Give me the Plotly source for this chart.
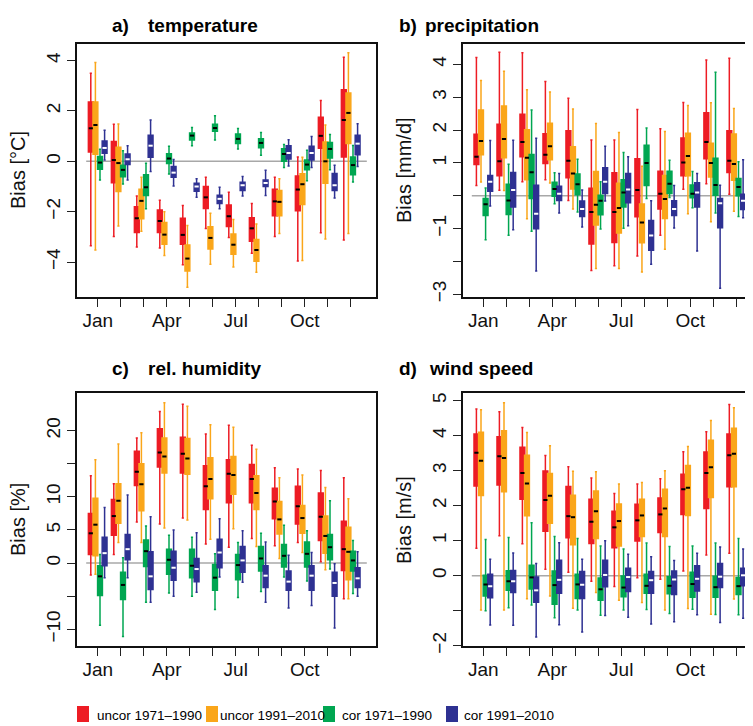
import plotly.graph_objects as go

months = list(range(1, 13))
month_labels = ["Jan", "", "", "Apr", "", "", "Jul", "", "", "Oct", "", ""]
series_names = ["uncor 1971\u20131990", "uncor 1991\u20132010", "cor 1971\u20131990", "cor 1991\u20132010"]

# ---------------- a) temperature [°C] ----------------
# each list: Jan..Dec ; lo = lower whisker, hi = upper whisker
T_r_lo = [-3.35, -2.98, -3.40, -3.44, -4.11, -2.67, -3.02, -3.65, -2.98, -3.96, -2.84, -3.12]
T_r_q1 = [0.37, -0.85, -2.83, -2.83, -3.29, -1.87, -2.59, -3.17, -2.16, -1.96, 0.52, 0.17]
T_r_md = [1.31, 0.05, -2.26, -2.37, -2.92, -1.43, -2.18, -2.66, -1.59, -1.12, 1.01, 1.64]
T_r_q3 = [2.35, 0.79, -1.80, -1.93, -2.26, -1.00, -1.73, -2.24, -1.11, -0.58, 1.75, 2.84]
T_r_hi = [3.49, 1.47, -1.38, -1.55, -1.75, -0.63, -1.23, -1.67, -0.63, 0.17, 2.41, 4.13]

T_o_lo = [-3.52, -2.57, -2.78, -3.74, -5.00, -4.09, -4.19, -4.40, -2.87, -3.94, -3.08, -2.87]
T_o_q1 = [0.28, -1.20, -2.28, -3.29, -4.35, -3.48, -3.69, -3.97, -2.16, -1.71, -0.87, 0.71]
T_o_md = [1.44, -0.07, -1.57, -2.91, -3.86, -3.04, -3.31, -3.52, -1.61, -0.91, 0.00, 1.92]
T_o_q3 = [2.35, 0.56, -1.11, -2.43, -3.32, -2.60, -2.88, -3.10, -1.16, -0.49, 0.77, 2.71]
T_o_hi = [3.92, 1.48, -0.63, -2.00, -2.55, -2.06, -2.31, -2.49, -0.69, 0.16, 1.44, 4.31]

T_g_lo = [-0.74, -0.90, -1.88, -0.50, 0.62, 0.85, 0.49, 0.24, -0.25, -0.77, -0.34, -0.82]
T_g_q1 = [-0.32, -0.61, -1.36, -0.09, 0.85, 1.19, 0.71, 0.54, 0.00, -0.34, 0.13, -0.53]
T_g_md = [-0.05, -0.34, -1.03, 0.11, 1.02, 1.32, 0.89, 0.73, 0.29, -0.13, 0.49, -0.15]
T_g_q3 = [0.19, -0.16, -0.53, 0.30, 1.12, 1.47, 1.08, 0.89, 0.50, 0.05, 0.75, 0.17]
T_g_hi = [0.48, 0.42, -0.08, 0.60, 1.34, 1.81, 1.30, 1.14, 0.67, 0.44, 1.06, 0.63]

T_b_lo = [0.05, -0.74, -0.40, -0.98, -1.43, -1.88, -1.38, -1.36, -0.19, -0.25, -1.46, -0.21]
T_b_q1 = [0.32, -0.13, 0.16, -0.63, -1.19, -1.67, -1.16, -1.00, 0.09, 0.05, -1.16, 0.26]
T_b_md = [0.53, 0.08, 0.62, -0.45, -1.00, -1.49, -0.95, -0.86, 0.33, 0.33, -0.95, 0.70]
T_b_q3 = [0.81, 0.29, 1.03, -0.21, -0.87, -1.35, -0.83, -0.74, 0.62, 0.60, -0.48, 1.03]
T_b_hi = [1.23, 0.62, 1.64, 0.07, -0.69, -1.03, -0.60, -0.36, 0.86, 0.98, -0.16, 1.49]

# ---------------- b) precipitation [mm/d] ----------------
P_r_lo = [0.31, 0.17, 0.43, 0.49, -0.14, -2.27, -2.13, -1.83, -1.20, 0.20, 0.37, 0.05]
P_r_q1 = [0.95, 0.61, 1.19, 0.98, 0.55, -1.47, -1.42, -0.64, -0.40, 0.61, 1.13, 0.71]
P_r_md = [1.19, 1.05, 1.64, 1.25, 1.07, -0.49, -0.49, 0.18, 0.06, 1.01, 1.64, 1.07]
P_r_q3 = [1.87, 2.18, 2.48, 1.89, 1.98, 0.23, 0.70, 1.13, 0.75, 1.76, 2.53, 1.98]
P_r_hi = [4.21, 4.37, 4.35, 3.48, 2.97, 1.70, 1.70, 2.63, 2.04, 2.84, 4.13, 4.19]

P_o_lo = [0.42, 0.16, -0.70, 0.39, -0.40, -2.21, -2.21, -2.32, -1.63, -0.55, -0.79, -0.47]
P_o_q1 = [1.25, 1.16, 0.49, 1.10, 0.21, -0.89, -1.13, -1.43, -0.69, 0.61, 0.57, 0.47]
P_o_md = [1.67, 1.73, 1.16, 1.51, 0.68, -0.27, -0.37, -0.81, -0.10, 1.21, 1.00, 0.97]
P_o_q3 = [2.61, 2.73, 2.01, 2.21, 1.49, 0.74, 0.38, -0.25, 0.62, 1.90, 1.60, 1.88]
P_o_hi = [3.51, 3.79, 3.23, 3.16, 2.64, 2.20, 1.93, 0.90, 1.96, 2.75, 2.83, 2.66]

P_g_lo = [-1.34, -1.20, -1.08, -0.24, -0.49, -1.01, -0.99, -0.08, -0.05, -0.36, -0.52, -0.63]
P_g_q1 = [-0.60, -0.57, -0.08, -0.01, 0.03, -0.58, -0.34, 0.31, 0.07, -0.06, 0.02, 0.00]
P_g_md = [-0.26, -0.14, 0.72, 0.21, 0.35, -0.15, 0.10, 1.00, 0.37, 0.06, 0.33, 0.27]
P_g_q3 = [-0.08, 0.35, 1.26, 0.41, 0.66, 0.02, 0.49, 1.54, 0.75, 0.33, 1.14, 0.53]
P_g_hi = [0.24, 0.96, 2.61, 0.70, 1.11, 0.43, 1.32, 2.06, 1.08, 0.74, 3.76, 1.04]

P_b_lo = [-0.31, -1.03, -2.29, -0.52, -0.95, -0.16, -0.91, -2.08, -0.98, -1.68, -2.81, -0.67]
P_b_q1 = [0.14, -0.34, -1.00, -0.14, -0.63, 0.07, -0.21, -1.66, -0.60, -0.34, -0.97, -0.42]
P_b_md = [0.43, 0.18, -0.55, 0.06, -0.40, 0.43, 0.19, -1.21, -0.40, 0.10, -0.23, -0.15]
P_b_q3 = [0.62, 0.71, 0.32, 0.29, -0.16, 0.85, 0.68, -0.75, -0.15, 0.40, -0.08, 0.05]
P_b_hi = [1.68, 1.69, 1.75, 0.68, 0.18, 1.51, 1.19, -0.15, 0.31, 0.68, 0.32, 1.10]

# ---------------- c) relative humidity [%] ----------------
H_r_lo = [-1.8, 1.3, 6.2, 5.9, 6.8, 2.9, 2.4, 3.7, 2.6, 3.1, 0.2, -5.4]
H_r_q1 = [1.3, 4.2, 11.7, 14.5, 13.6, 8.1, 9.1, 9.1, 6.7, 5.9, 3.4, -1.1]
H_r_md = [4.5, 7.1, 13.8, 16.7, 16.5, 11.6, 13.5, 12.7, 9.3, 8.6, 7.0, 2.1]
H_r_q3 = [7.5, 9.6, 16.9, 20.3, 19.0, 14.7, 15.6, 14.9, 11.3, 11.6, 10.6, 6.3]
H_r_hi = [13.2, 12.0, 18.9, 22.9, 24.0, 19.5, 20.8, 17.8, 14.4, 14.2, 14.0, 12.9]

H_o_lo = [-1.7, 3.1, 3.1, 5.3, 6.5, 3.6, 5.2, 2.5, 0.7, 1.6, -1.0, -5.4]
H_o_q1 = [1.1, 6.0, 7.9, 13.6, 13.4, 9.7, 10.4, 8.1, 4.4, 4.5, 1.5, -2.5]
H_o_md = [5.8, 9.4, 11.9, 16.1, 15.8, 12.7, 13.3, 10.6, 6.6, 6.8, 4.1, 1.7]
H_o_q3 = [9.8, 12.0, 15.0, 18.9, 18.8, 15.9, 16.1, 13.2, 9.3, 8.7, 7.1, 5.4]
H_o_hi = [15.6, 18.0, 19.7, 24.2, 23.7, 20.9, 20.5, 17.2, 12.9, 13.3, 11.4, 9.7]

H_g_lo = [-9.4, -11.1, -5.9, -4.5, -5.0, -7.0, -5.2, -4.3, -2.1, -2.7, -0.9, -4.6]
H_g_q1 = [-4.9, -5.5, -0.5, -1.7, -2.2, -4.1, -2.5, -1.2, -0.6, -0.6, 0.5, -1.2]
H_g_md = [-2.0, -3.3, 1.8, 0.5, -0.4, -2.2, -0.3, 0.7, 1.1, 1.4, 2.4, 0.4]
H_g_q3 = [-0.4, -1.4, 3.5, 2.1, 2.1, -0.2, 1.3, 2.5, 2.8, 3.2, 4.3, 1.8]
H_g_hi = [1.3, 0.8, 5.6, 4.2, 3.9, 1.4, 3.1, 4.5, 5.7, 4.9, 9.4, 3.4]

H_b_lo = [-2.2, -2.2, -5.9, -5.0, -4.4, -2.1, -2.9, -5.9, -6.8, -6.4, -9.8, -5.0]
H_b_q1 = [-0.4, 0.5, -4.0, -2.6, -2.8, -0.7, -1.4, -3.7, -4.1, -4.1, -5.0, -3.7]
H_b_md = [1.5, 2.1, -2.0, -0.7, -0.9, 1.6, 0.4, -1.9, -2.8, -1.9, -3.0, -2.3]
H_b_q3 = [3.9, 4.3, 1.7, 1.8, 0.7, 3.6, 2.5, -0.4, -1.2, -0.4, -1.4, -0.7]
H_b_hi = [8.4, 10.3, 7.0, 5.0, 4.6, 6.7, 4.9, 3.2, 1.2, 1.6, -0.1, 1.7]

# ---------------- d) wind speed [m/s] ----------------
W_r_lo = [0.78, 1.14, 0.91, 0.18, 0.10, -0.16, -0.31, -0.06, -0.10, 0.13, 0.59, 0.64]
W_r_q1 = [2.56, 2.59, 2.18, 1.27, 1.08, 0.92, 0.80, 0.99, 1.23, 1.75, 1.92, 2.54]
W_r_md = [3.51, 3.41, 2.93, 2.16, 1.70, 1.54, 1.38, 1.58, 1.75, 2.47, 2.93, 3.44]
W_r_q3 = [4.05, 3.97, 3.67, 2.99, 2.55, 2.18, 1.84, 2.04, 2.22, 2.90, 3.53, 4.05]
W_r_hi = [4.76, 4.68, 4.23, 3.43, 3.11, 2.79, 2.35, 2.62, 2.77, 3.54, 4.11, 4.89]

W_o_lo = [-0.98, -0.98, -0.66, -0.58, -0.93, -0.48, -0.70, -0.77, -0.98, -0.94, -1.10, -0.67]
W_o_q1 = [2.29, 2.40, 1.71, 1.50, 0.88, 1.06, 0.85, 1.12, 1.12, 1.72, 2.23, 2.54]
W_o_md = [3.28, 3.36, 2.63, 2.28, 1.67, 1.84, 1.56, 1.72, 1.92, 2.51, 3.10, 3.48]
W_o_q3 = [4.10, 4.14, 3.44, 2.92, 2.30, 2.42, 2.05, 2.18, 2.47, 3.15, 3.87, 4.21]
W_o_hi = [4.74, 4.94, 4.09, 3.71, 2.98, 2.97, 2.62, 2.66, 3.00, 3.69, 4.43, 4.80]

W_g_lo = [-1.00, -0.92, -0.84, -1.20, -0.98, -1.13, -0.98, -0.97, -1.08, -0.96, -1.11, -1.12]
W_g_q1 = [-0.58, -0.42, -0.38, -0.82, -0.65, -0.70, -0.60, -0.50, -0.52, -0.62, -0.62, -0.54]
W_g_md = [-0.25, -0.16, -0.05, -0.27, -0.25, -0.39, -0.34, -0.29, -0.29, -0.24, -0.33, -0.30]
W_g_q3 = [0.01, 0.14, 0.30, 0.13, 0.04, -0.07, -0.01, 0.04, -0.03, 0.10, -0.02, -0.05]
W_g_hi = [1.03, 1.09, 1.51, 1.12, 1.06, 0.85, 0.76, 0.93, 0.83, 0.85, 0.93, 1.06]

W_b_lo = [-1.41, -1.42, -1.75, -1.40, -1.61, -1.14, -1.19, -1.38, -1.32, -1.12, -1.34, -1.22]
W_b_q1 = [-0.63, -0.48, -0.76, -0.50, -0.65, -0.32, -0.45, -0.50, -0.54, -0.44, -0.34, -0.29]
W_b_md = [-0.30, -0.16, -0.42, -0.12, -0.26, 0.02, -0.04, -0.13, -0.11, -0.09, -0.03, 0.01]
W_b_q3 = [0.04, 0.15, -0.04, 0.44, 0.12, 0.44, 0.21, 0.12, 0.13, 0.28, 0.35, 0.21]
W_b_hi = [0.47, 0.65, 0.35, 0.94, 0.47, 1.00, 0.61, 0.54, 0.43, 0.64, 0.82, 0.76]

# ---------------- styling ----------------
colors = ["#ED1C24", "#FAA61A", "#00A651", "#2E3192"]
median_colors = ["black", "black", "black", "white"]
offsets = [-0.3, -0.1, 0.1, 0.3]

panels = {
    "T": [[T_r_lo, T_r_q1, T_r_md, T_r_q3, T_r_hi], [T_o_lo, T_o_q1, T_o_md, T_o_q3, T_o_hi],
          [T_g_lo, T_g_q1, T_g_md, T_g_q3, T_g_hi], [T_b_lo, T_b_q1, T_b_md, T_b_q3, T_b_hi]],
    "P": [[P_r_lo, P_r_q1, P_r_md, P_r_q3, P_r_hi], [P_o_lo, P_o_q1, P_o_md, P_o_q3, P_o_hi],
          [P_g_lo, P_g_q1, P_g_md, P_g_q3, P_g_hi], [P_b_lo, P_b_q1, P_b_md, P_b_q3, P_b_hi]],
    "H": [[H_r_lo, H_r_q1, H_r_md, H_r_q3, H_r_hi], [H_o_lo, H_o_q1, H_o_md, H_o_q3, H_o_hi],
          [H_g_lo, H_g_q1, H_g_md, H_g_q3, H_g_hi], [H_b_lo, H_b_q1, H_b_md, H_b_q3, H_b_hi]],
    "W": [[W_r_lo, W_r_q1, W_r_md, W_r_q3, W_r_hi], [W_o_lo, W_o_q1, W_o_md, W_o_q3, W_o_hi],
          [W_g_lo, W_g_q1, W_g_md, W_g_q3, W_g_hi], [W_b_lo, W_b_q1, W_b_md, W_b_q3, W_b_hi]],
}
axis_of = {"T": ("x", "y"), "P": ("x2", "y2"), "H": ("x3", "y3"), "W": ("x4", "y4")}

# the page body has an 8px margin: the figure is drawn at (8, 8) in the window
OFF = 8
W_PX, H_PX = 753 - OFF, 726 - OFF
FONT = "Liberation Sans, Arial, Helvetica, sans-serif"

fig = go.Figure()
for key, series in panels.items():
    xa, ya = axis_of[key]
    for s, (lo, q1, md, q3, hi) in enumerate(series):
        xs = [m + offsets[s] for m in months]
        fig.add_trace(go.Box(
            x=xs, q1=q1, median=md, q3=q3, lowerfence=lo, upperfence=hi,
            width=0.21, whiskerwidth=0.45, boxpoints=False,
            fillcolor=colors[s], line=dict(color=colors[s], width=1.5),
            name=series_names[s], showlegend=False, xaxis=xa, yaxis=ya))
    for s, (lo, q1, md, q3, hi) in enumerate(series):
        xs = [m + offsets[s] for m in months]
        fig.add_trace(go.Scatter(
            x=xs, y=md, mode="markers", showlegend=False, hoverinfo="skip",
            marker=dict(symbol="line-ew", size=3,
                        line=dict(width=2, color=median_colors[s])),
            xaxis=xa, yaxis=ya))

def px_x(p):
    return (p - OFF) / W_PX

def px_y(p):
    return 1 - (p - OFF) / H_PX

xdom_left = [px_x(77), px_x(376)]
xdom_right = [px_x(463.3), 1.0]
ydom_top = [px_y(297), px_y(44)]
ydom_bot = [px_y(646), px_y(393.3)]

xcommon = dict(tickmode="array", tickvals=months, ticktext=month_labels,
               ticks="outside", ticklen=8, tickwidth=1.4, tickcolor="#222",
               showline=True, linecolor="#111", linewidth=1.8, mirror=True,
               showgrid=False, zeroline=False, automargin=False, ticklabelstandoff=-3,
               tickfont=dict(family=FONT, size=19, color="#111"))
ycommon = dict(ticks="outside", ticklen=8, tickwidth=1.4, tickcolor="#222",
               showline=True, linecolor="#111", linewidth=1.8,
               showgrid=False, zeroline=False, tickangle=-90, tickmode="array",
               automargin=False,
               tickfont=dict(family=FONT, size=19, color="#111"))

M = "\u2212"
fig.update_layout(
    template="none",
    width=W_PX, height=H_PX, margin=dict(l=0, r=0, t=0, b=0, pad=0),
    paper_bgcolor="white", plot_bgcolor="white", boxmode="overlay", showlegend=False,
    xaxis=dict(xcommon, domain=xdom_left, range=[0.1, 13.1], anchor="y"),
    yaxis=dict(ycommon, domain=ydom_top, range=[-5.385, 4.655], anchor="x", mirror=True,
               tickvals=[-4, -2, 0, 2, 4], ticktext=[M + "4", M + "2", "0", "2", "4"]),
    xaxis2=dict(xcommon, domain=xdom_right, range=[0.13, 12.73], anchor="y2"),
    yaxis2=dict(ycommon, domain=ydom_top, range=[-3.08, 4.62], anchor="x2", mirror=False,
                tickvals=[-3, -2, -1, 0, 1, 2, 3, 4],
                ticktext=[M + "3", "", M + "1", "", "1", "2", "3", "4"]),
    xaxis3=dict(xcommon, domain=xdom_left, range=[0.1, 13.1], anchor="y3"),
    yaxis3=dict(ycommon, domain=ydom_bot, range=[-12.52, 25.64], anchor="x3", mirror=True,
                tickvals=[-10, -5, 0, 5, 10, 15, 20],
                ticktext=[M + "10", "", "0", "5", "10", "", "20"]),
    xaxis4=dict(xcommon, domain=xdom_right, range=[0.13, 12.73], anchor="y4"),
    yaxis4=dict(ycommon, domain=ydom_bot, range=[-2.01, 5.21], anchor="x4", mirror=False,
                tickvals=[-2, -1, 0, 1, 2, 3, 4, 5],
                ticktext=[M + "2", "", "0", "1", "2", "3", "4", "5"]),
)

# zero reference lines
for key in panels:
    xa, ya = axis_of[key]
    fig.add_shape(type="line", xref=xa, yref=ya, x0=0.5, x1=12.7, y0=0, y1=0,
                  line=dict(color="#A8A8A8", width=1.5), layer="below")

# panel titles
titles = [("a)", 110, "temperature", 146, 26), ("b)", 397, "precipitation", 423, 26),
          ("c)", 110, "rel. humidity", 146, 369), ("d)", 397, "wind speed", 427, 369)]
for lab, lx, txt, tx, ty in titles:
    for t, x in ((lab, lx), (txt, tx)):
        fig.add_annotation(text="<b>%s</b>" % t, xref="paper", yref="paper",
                           x=px_x(x), y=px_y(ty), xanchor="left", yanchor="middle",
                           showarrow=False, font=dict(family=FONT, size=19, color="black"))

# y axis titles
ytitles = [("Bias [\u00b0C]", 18, 170), ("Bias [mm/d]", 404, 170),
           ("Bias [%]", 18, 520), ("Bias [m/s]", 404, 520)]
for txt, x, y in ytitles:
    fig.add_annotation(text=txt, xref="paper", yref="paper", x=px_x(x), y=px_y(y),
                       xanchor="center", yanchor="middle", textangle=-90, showarrow=False,
                       font=dict(family=FONT, size=20, color="#111"))

# legend (manual, bottom row)
leg_sq = [77, 206, 323, 446]
leg_tx = [95, 218, 340, 462]
for s in range(4):
    fig.add_shape(type="rect", xref="paper", yref="paper",
                  x0=px_x(leg_sq[s]), x1=px_x(leg_sq[s] + 12),
                  y0=px_y(722), y1=px_y(706), fillcolor=colors[s], line=dict(width=0))
    fig.add_annotation(text=series_names[s], xref="paper", yref="paper",
                       x=px_x(leg_tx[s]), y=px_y(715), xanchor="left", yanchor="middle",
                       showarrow=False, font=dict(family=FONT, size=13.5, color="black"))

fig.write_html("out.html")
